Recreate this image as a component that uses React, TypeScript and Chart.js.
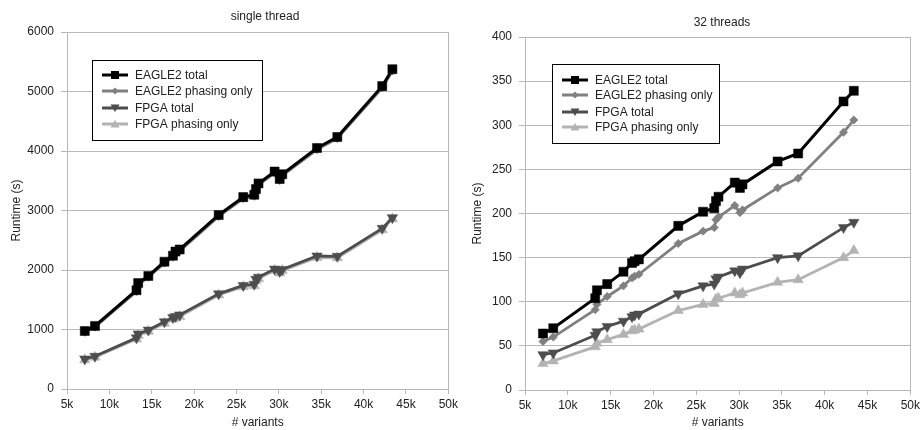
import React, { useEffect, useRef } from 'react';
import { Chart, registerables } from 'chart.js';

Chart.register(...registerables);

// # variants (thousands)
const variantsK = [7.1, 8.3, 13.2, 13.4, 14.6, 16.5, 17.5, 17.8, 18.3, 22.9, 25.8, 27.1, 27.3, 27.6, 29.5, 30.1, 30.4, 34.5, 36.9, 42.2, 43.4];

// single thread runtimes (s)
const singleEagleTotal = [975, 1060, 1660, 1780, 1900, 2140, 2240, 2310, 2345, 2925, 3225, 3265, 3360, 3455, 3655, 3530, 3610, 4050, 4235, 5090, 5375];
const singleEaglePhasing = [955, 1040, 1640, 1755, 1880, 2115, 2215, 2285, 2320, 2900, 3200, 3240, 3335, 3430, 3630, 3505, 3585, 4025, 4210, 5060, 5345];
const singleFpgaTotal = [505, 550, 860, 925, 990, 1130, 1200, 1220, 1245, 1600, 1740, 1760, 1845, 1880, 2015, 1975, 2010, 2235, 2230, 2700, 2880];
const singleFpgaPhasing = [490, 535, 840, 900, 970, 1105, 1175, 1195, 1220, 1580, 1720, 1735, 1820, 1855, 1995, 1950, 1990, 2210, 2205, 2675, 2860];

// 32 threads runtimes (s)
const multiEagleTotal = [64, 70, 104, 113, 120, 134, 144, 146, 148, 186, 202, 206, 214, 219, 235, 229, 233, 259, 268, 327, 339];
const multiEaglePhasing = [55, 60, 91, 97, 106, 118, 127, 129, 131, 166, 180, 184, 193, 196, 209, 201, 204, 229, 240, 292, 306];
const multiFpgaTotal = [40, 42, 62, 66, 72, 78, 83, 85, 86, 109, 118, 120, 126, 128, 135, 133, 137, 150, 152, 184, 190];
const multiFpgaPhasing = [30, 33, 49, 53, 57, 63, 67, 68, 69, 90, 97, 98, 103, 104, 110, 108, 110, 122, 125, 150, 158];

const seriesNames = ['EAGLE2 total', 'EAGLE2 phasing only', 'FPGA total', 'FPGA phasing only'];
const panelTitles = ['single thread', '32 threads'];
const xAxisTitle = '# variants';
const yAxisTitle = 'Runtime (s)';
const xTickSuffix = 'k';

const seriesColors = ['#000000', '#808080', '#4d4d4d', '#b3b3b3'];
const pointStyles = ['rect', 'rectRot', 'triangle', 'triangle'];
const pointRotations = [0, 0, 180, 0];
const pointRadii = [6.4, 4.2, 6, 6];
const gridColor = '#b8b8b8';
const textColor = '#222222';
const FONT = '"Liberation Sans", Arial, sans-serif';

Chart.defaults.font.family = FONT;
Chart.defaults.font.size = 12;

function drawMarker(ctx: CanvasRenderingContext2D, i: number, x: number, y: number) {
  ctx.save();
  ctx.fillStyle = seriesColors[i];
  ctx.beginPath();
  if (i === 0) {
    ctx.rect(x - 4, y - 4, 8, 8);
  } else if (i === 1) {
    ctx.moveTo(x, y - 3.5);
    ctx.lineTo(x + 3.5, y);
    ctx.lineTo(x, y + 3.5);
    ctx.lineTo(x - 3.5, y);
    ctx.closePath();
  } else if (i === 2) {
    ctx.moveTo(x - 4.5, y - 3.5);
    ctx.lineTo(x + 4.5, y - 3.5);
    ctx.lineTo(x, y + 4);
    ctx.closePath();
  } else {
    ctx.moveTo(x - 4.5, y + 3.5);
    ctx.lineTo(x + 4.5, y + 3.5);
    ctx.lineTo(x, y - 4);
    ctx.closePath();
  }
  ctx.fill();
  ctx.restore();
}

const framePlugin = {
  id: 'frame',
  beforeDatasetsDraw(chart: any) {
    const { ctx, chartArea } = chart;
    ctx.save();
    ctx.strokeStyle = gridColor;
    ctx.lineWidth = 1;
    ctx.beginPath();
    ctx.moveTo(Math.round(chartArea.right) + 0.5, chartArea.top);
    ctx.lineTo(Math.round(chartArea.right) + 0.5, chartArea.bottom);
    ctx.stroke();
    ctx.restore();
  },
  afterDraw(chart: any, _args: any, opts: any) {
    const { ctx } = chart;
    ctx.save();
    ctx.fillStyle = textColor;
    ctx.font = `12px ${FONT}`;
    ctx.textAlign = 'center';
    ctx.textBaseline = 'middle';
    ctx.fillText(opts.title, opts.titleX, opts.titleY);
    const b = opts.legend;
    ctx.fillStyle = '#ffffff';
    ctx.fillRect(b.left, b.top, b.right - b.left, b.bottom - b.top);
    ctx.strokeStyle = '#000000';
    ctx.lineWidth = 1;
    ctx.strokeRect(b.left + 0.5, b.top + 0.5, b.right - b.left, b.bottom - b.top);
    seriesNames.forEach((name, i) => {
      const y = b.rows[i];
      ctx.strokeStyle = seriesColors[i];
      ctx.lineWidth = 3;
      ctx.beginPath();
      ctx.moveTo(b.lineX0, y);
      ctx.lineTo(b.lineX1, y);
      ctx.stroke();
      drawMarker(ctx, i, (b.lineX0 + b.lineX1) / 2, y);
      ctx.fillStyle = textColor;
      ctx.textAlign = 'left';
      ctx.textBaseline = 'middle';
      ctx.font = `12px ${FONT}`;
      ctx.fillText(name, b.textX, y + 0.5);
    });
    ctx.restore();
  },
};

type PanelProps = {
  width: number;
  height: number;
  series: number[][];
  title: string;
  yMax: number;
  yStep: number;
  frame: any;
  pad: { top: number; right: number };
  yWidth: number;
  xHeight: number;
};

function Panel(props: PanelProps) {
  const ref = useRef<HTMLCanvasElement | null>(null);
  useEffect(() => {
    if (!ref.current) return;
    const datasets = props.series.map((vals, i) => ({
      label: seriesNames[i],
      data: vals.map((v, j) => ({ x: variantsK[j], y: v })),
      borderColor: seriesColors[i],
      backgroundColor: seriesColors[i],
      borderWidth: i === 0 ? 3 : 2.8,
      pointStyle: pointStyles[i],
      pointRotation: pointRotations[i],
      pointRadius: pointRadii[i],
      pointBorderWidth: 0.5,
      pointBorderColor: seriesColors[i],
      pointBackgroundColor: seriesColors[i],
      tension: 0,
      fill: false,
    }));
    const chart = new Chart(ref.current, {
      type: 'line',
      data: { datasets },
      plugins: [framePlugin as any],
      options: {
        responsive: false,
        animation: false,
        devicePixelRatio: 1,
        layout: { padding: { top: props.pad.top, right: props.pad.right, bottom: 0, left: 0 } },
        plugins: {
          legend: { display: false },
          tooltip: { enabled: false },
          title: { display: false },
          frame: { ...props.frame, title: props.title },
        } as any,
        scales: {
          x: {
            type: 'linear',
            min: 5,
            max: 50,
            ticks: {
              stepSize: 5,
              autoSkip: false,
              maxRotation: 0,
              color: textColor,
              padding: 3,
              font: { size: 12 },
              callback: (v: any) => `${v}${xTickSuffix}`,
            },
            grid: { drawOnChartArea: false, drawTicks: true, tickLength: 5, color: gridColor },
            border: { color: gridColor, width: 1 },
            title: { display: true, text: xAxisTitle, color: textColor, font: { size: 12 }, padding: { top: 0, bottom: 0 } },
            afterFit: (s: any) => { s.height = props.xHeight; },
          },
          y: {
            type: 'linear',
            min: 0,
            max: props.yMax,
            ticks: { stepSize: props.yStep, color: textColor, padding: 7, font: { size: 12 }, callback: (v: any) => String(v) },
            grid: { color: gridColor, tickLength: 6, drawTicks: true },
            border: { color: gridColor, width: 1 },
            title: { display: true, text: yAxisTitle, color: textColor, font: { size: 12 }, padding: { top: 9, bottom: 0 } },
            afterFit: (s: any) => { s.width = props.yWidth; },
          },
        },
      } as any,
    });
    return () => chart.destroy();
  }, []);
  return (
    <canvas
      ref={ref}
      width={props.width}
      height={props.height}
      style={{ width: props.width, height: props.height, display: 'block' }}
    />
  );
}

export default function App() {
  return (
    <div style={{ position: 'fixed', left: 0, top: 0, width: 923, height: 430, background: '#ffffff', display: 'flex' }}>
      <Panel
        width={461}
        height={430}
        series={[singleEagleTotal, singleEaglePhasing, singleFpgaTotal, singleFpgaPhasing]}
        title={panelTitles[0]}
        yMax={6000}
        yStep={1000}
        pad={{ top: 32, right: 7 }}
        yWidth={67}
        xHeight={41}
        frame={{
          titleX: 265,
          titleY: 17,
          legend: { left: 92, right: 262, top: 60, bottom: 140, rows: [75, 91, 108, 124], lineX0: 102, lineX1: 128, textX: 135 },
        }}
      />
      <Panel
        width={462}
        height={430}
        series={[multiEagleTotal, multiEaglePhasing, multiFpgaTotal, multiFpgaPhasing]}
        title={panelTitles[1]}
        yMax={400}
        yStep={50}
        pad={{ top: 37, right: 8 }}
        yWidth={64}
        xHeight={40}
        frame={{
          titleX: 261,
          titleY: 23,
          legend: { left: 91, right: 258, top: 64, bottom: 143, rows: [80, 95, 112, 127], lineX0: 101, lineX1: 127, textX: 134 },
        }}
      />
    </div>
  );
}
